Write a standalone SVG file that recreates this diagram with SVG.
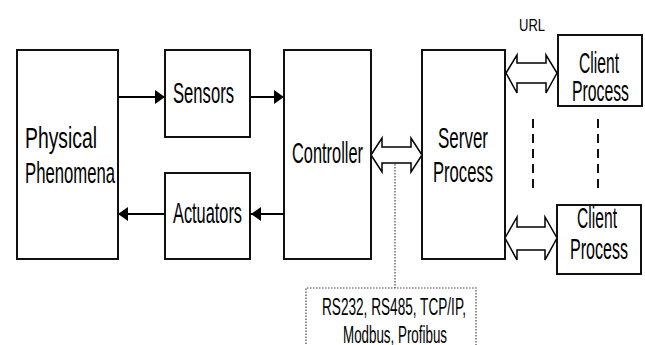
<svg xmlns="http://www.w3.org/2000/svg" width="645" height="345" viewBox="0 0 645 345">
<style>
.box{fill:#fff;stroke:#111;stroke-width:2}
.t{font-family:"Liberation Sans",Arial,sans-serif;font-size:29px;fill:#000}
.s{font-family:"Liberation Sans",Arial,sans-serif;font-size:17px;fill:#000}
.r{font-family:"Liberation Sans",Arial,sans-serif;font-size:23px;fill:#000}
.ln{stroke:#000;stroke-width:2;fill:none}
.dbl{fill:#fff;stroke:#000;stroke-width:1.5;stroke-linejoin:miter}
.dash{stroke:#111;stroke-width:2;stroke-dasharray:9 6;fill:none}
.dot{stroke:#444;stroke-width:1.2;stroke-dasharray:1.5 1.5;fill:none}
</style>
<defs>
<marker id="ah" viewBox="0 0 10 14" refX="10" refY="7" markerWidth="10" markerHeight="14" markerUnits="userSpaceOnUse" orient="auto">
<path d="M0,0 L10,7 L0,14 Z" fill="#000"/>
</marker>
</defs>
<rect width="645" height="345" fill="#fff"/>
<g id="connectors">
<line class="ln" x1="118" y1="97" x2="165" y2="97" marker-end="url(#ah)"/>
<line class="ln" x1="250" y1="97" x2="284" y2="97" marker-end="url(#ah)"/>
<line class="ln" x1="284" y1="214" x2="251" y2="214" marker-end="url(#ah)"/>
<line class="ln" x1="165" y1="214" x2="118" y2="214" marker-end="url(#ah)"/>
<polygon class="dbl" points="371,155 382,138 382,147 411,147 411,138 422,155 411,172 411,163 382,163 382,172"/>
<polygon class="dbl" points="506,73 517,55 517,63 546,63 546,55 557,73 546,93 546,83 517,83 517,93"/>
<polygon class="dbl" points="505,238 517,217 517,227 545,227 545,217 557,238 545,260 545,250 517,250 517,260"/>
<line class="dash" x1="533" y1="119" x2="533" y2="190"/>
<line class="dash" x1="598" y1="119" x2="598" y2="190"/>
<line class="dot" x1="395" y1="164" x2="395" y2="288"/>
</g>
<g id="physical">
<rect class="box" x="17" y="50" width="101" height="209"/>
<text class="t" x="25" y="148" textLength="72" lengthAdjust="spacingAndGlyphs">Physical</text>
<text class="t" x="25" y="183" textLength="90" lengthAdjust="spacingAndGlyphs">Phenomena</text>
</g>
<g id="sensors">
<rect class="box" x="165" y="50" width="85" height="87"/>
<text class="t" x="173" y="103" textLength="61" lengthAdjust="spacingAndGlyphs">Sensors</text>
</g>
<g id="actuators">
<rect class="box" x="165" y="173" width="85" height="86"/>
<text class="t" x="173" y="223" textLength="69" lengthAdjust="spacingAndGlyphs">Actuators</text>
</g>
<g id="controller">
<rect class="box" x="284" y="50" width="87" height="209"/>
<text class="t" x="292" y="163" textLength="71" lengthAdjust="spacingAndGlyphs">Controller</text>
</g>
<g id="server">
<rect class="box" x="422" y="50" width="83" height="209"/>
<text class="t" x="438" y="148" textLength="50" lengthAdjust="spacingAndGlyphs">Server</text>
<text class="t" x="433" y="182" textLength="60" lengthAdjust="spacingAndGlyphs">Process</text>
</g>
<g id="url">
<text class="s" x="519" y="31" textLength="26" lengthAdjust="spacingAndGlyphs">URL</text>
</g>
<g id="client1">
<rect class="box" x="558" y="35" width="84" height="71"/>
<text class="t" x="579" y="73" textLength="40" lengthAdjust="spacingAndGlyphs">Client</text>
<text class="t" x="572" y="101" textLength="57" lengthAdjust="spacingAndGlyphs">Process</text>
</g>
<g id="client2">
<rect class="box" x="557" y="205" width="84" height="69"/>
<text class="t" x="577" y="228" textLength="40" lengthAdjust="spacingAndGlyphs">Client</text>
<text class="t" x="570" y="259" textLength="58" lengthAdjust="spacingAndGlyphs">Process</text>
</g>
<g id="protocols">
<path class="dot" d="M306,350 V288 H476 V350"/>
<text class="r" x="322" y="315" textLength="144" lengthAdjust="spacingAndGlyphs">RS232, RS485, TCP/IP,</text>
<text class="r" x="343" y="343" textLength="104" lengthAdjust="spacingAndGlyphs">Modbus, Profibus</text>
</g>
</svg>
